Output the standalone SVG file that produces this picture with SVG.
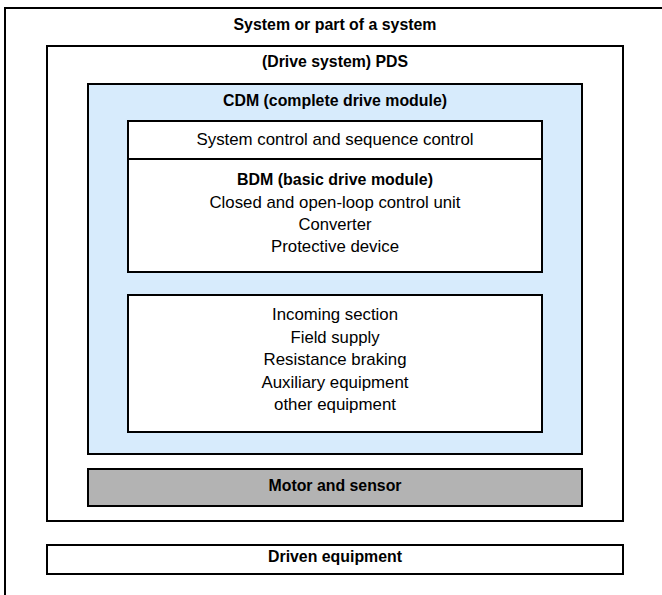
<svg xmlns="http://www.w3.org/2000/svg" width="662" height="595" viewBox="0 0 662 595">
<style>
.box{stroke:#000;stroke-width:2;fill:#fff}
.cdm{fill:#d7ebfc}
.motor{fill:#b3b3b3}
text{font-family:"Liberation Sans",Arial,sans-serif;font-size:17px;fill:#000;text-anchor:middle}
.b{font-weight:bold}
</style>
<rect width="662" height="595" fill="#fff"/>
<g id="system">
<rect class="box" x="5" y="8" width="680" height="620"/>
<text class="b" x="335" y="30" textLength="203" lengthAdjust="spacingAndGlyphs">System or part of a system</text>
</g>
<g id="pds">
<rect class="box" x="47" y="46" width="576" height="475"/>
<text class="b" x="335" y="67" textLength="146" lengthAdjust="spacingAndGlyphs">(Drive system) PDS</text>
</g>
<g id="cdm">
<rect class="box cdm" x="88" y="84" width="494" height="370"/>
<text class="b" x="335" y="106" textLength="224" lengthAdjust="spacingAndGlyphs">CDM (complete drive module)</text>
</g>
<g id="syscontrol">
<rect class="box" x="128" y="121" width="414" height="38"/>
<text x="335" y="145" textLength="277" lengthAdjust="spacingAndGlyphs">System control and sequence control</text>
</g>
<g id="bdm">
<rect class="box" x="128" y="159" width="414" height="113"/>
<text class="b" x="335" y="185" textLength="196" lengthAdjust="spacingAndGlyphs">BDM (basic drive module)</text>
<text x="335" y="207.5" textLength="251" lengthAdjust="spacingAndGlyphs">Closed and open-loop control unit</text>
<text x="335" y="230" textLength="73" lengthAdjust="spacingAndGlyphs">Converter</text>
<text x="335" y="252" textLength="128" lengthAdjust="spacingAndGlyphs">Protective device</text>
</g>
<g id="incoming">
<rect class="box" x="128" y="295" width="414" height="137"/>
<text x="335" y="320" textLength="126" lengthAdjust="spacingAndGlyphs">Incoming section</text>
<text x="335" y="342.5" textLength="89" lengthAdjust="spacingAndGlyphs">Field supply</text>
<text x="335" y="365" textLength="143" lengthAdjust="spacingAndGlyphs">Resistance braking</text>
<text x="335" y="387.5" textLength="147" lengthAdjust="spacingAndGlyphs">Auxiliary equipment</text>
<text x="335" y="410" textLength="122" lengthAdjust="spacingAndGlyphs">other equipment</text>
</g>
<g id="motor">
<rect class="box motor" x="88" y="469" width="494" height="37"/>
<text class="b" x="335" y="491" textLength="133" lengthAdjust="spacingAndGlyphs">Motor and sensor</text>
</g>
<g id="driven">
<rect class="box" x="47" y="545" width="576" height="29"/>
<text class="b" x="335" y="562" textLength="134" lengthAdjust="spacingAndGlyphs">Driven equipment</text>
</g>
<g id="connectors"/>
</svg>
